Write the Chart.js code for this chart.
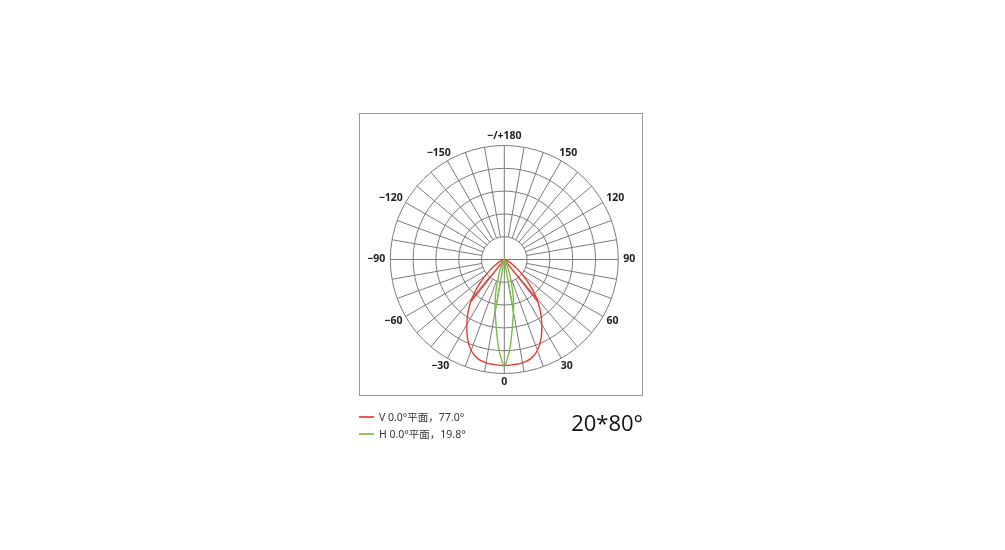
<!DOCTYPE html>
<html>
<head>
<meta charset="utf-8">
<script src="https://cdn.jsdelivr.net/npm/chart.js@4"></script>
<style>
    body { margin: 0; background: #fff; }
    #wrap { position: relative; width: 1005px; height: 550px; }
    #frame { position: absolute; left: 359px; top: 113px; width: 282px; height: 281px; border: 1px solid #999; }
    .legend { position: absolute; left: 379px; font: 10.5px "Noto Sans", "Noto Sans CJK SC", sans-serif; color: #333; line-height: 16px; }
    .mark { position: absolute; left: 359px; width: 15px; height: 2px; }
    #beam { position: absolute; left: 560px; top: 407px; width: 83px; text-align: right; font: 22px "Open Sans", sans-serif; color: #111; }
</style>
</head>
<body>
<div id="wrap">
    <div id="frame"></div>
    <canvas id="polar"></canvas>
    <div class="mark" style="top:416px; background:#ef5a50"></div>
    <div class="legend" style="top:409px">V 0.0°平面，77.0°</div>
    <div class="mark" style="top:433px; background:#8cc65c"></div>
    <div class="legend" style="top:426px">H 0.0°平面，19.8°</div>
    <div id="beam">20*80°</div>
</div>
<script>
// polar data: angle in degrees (0 = straight down), value in cd
const redAngles = [-90,-80,-70,-65,-60,-55,-50,-45,-40,-35,-30,-25,-20,-15,-10,-5,0,5,10,15,20,25,30,35,40,45,50,55,60,65,70,80,90];
const redValues = [0,4,13,22,39,66,105,158,219,276,329,382,425,450,460,463,465,463,460,450,425,382,329,276,219,158,105,66,39,22,13,4,0];
const greenAngles = [-90,-50,-40,-30,-25,-20,-15,-12,-10,-8,-6,-4,-2,0,2,4,6,8,10,12,15,20,25,30,40,50,90];
const greenValues = [0,1,3,12,30,70,140,195,230,270,320,380,430,470,430,380,320,270,230,195,140,70,30,12,3,1,0];
const beamAngles = [77.0, 19.8];
const seriesColors = ['#e8392f', '#7cba4a'];

// grid
const rings = [100, 200, 300, 400, 500];
const labelAngles = [0, 30, 60, 90, 120, 150, 180, -150, -120, -90, -60, -30];
const labelTexts = ['0', '30', '60', '90', '120', '150', '\u2212/+180', '\u2212150', '\u2212120', '\u221290', '\u221260', '\u221230'];

const rad = d => d * Math.PI / 180;

function toXY(angles, values) {
    return angles.map((a, i) => ({ x: values[i] * Math.sin(rad(a)), y: -values[i] * Math.cos(rad(a)) }));
}

function beamLine(values, beam) {
    const h = Math.max(...values) / 2;
    const a = rad(beam / 2);
    return [
        { x: -h * Math.sin(a), y: -h * Math.cos(a) },
        { x: 0, y: 0 },
        { x: h * Math.sin(a), y: -h * Math.cos(a) }
    ];
}

const polarGrid = {
    id: 'polarGrid',
    beforeDatasetsDraw(chart) {
        const ctx = chart.ctx;
        const xs = chart.scales.x, ys = chart.scales.y;
        const cx = xs.getPixelForValue(0), cy = ys.getPixelForValue(0);
        const k = xs.getPixelForValue(100) - cx;
        const inner = rings[0] / 100 * k;
        const outer = rings[rings.length - 1] / 100 * k;

        ctx.save();
        ctx.strokeStyle = '#7a7a7a';
        ctx.lineWidth = 1;
        rings.forEach(r => {
            ctx.beginPath();
            ctx.arc(cx, cy, r / 100 * k, 0, Math.PI * 2);
            ctx.stroke();
        });
        for (let a = 0; a < 360; a += 10) {
            const dx = Math.sin(rad(a)), dy = Math.cos(rad(a));
            const start = (a % 90 === 0) ? 0 : inner;
            ctx.beginPath();
            ctx.moveTo(cx + dx * start, cy + dy * start);
            ctx.lineTo(cx + dx * outer, cy + dy * outer);
            ctx.stroke();
        }

        ctx.fillStyle = '#222';
        ctx.font = 'bold 10.5px "Noto Sans", sans-serif';
        ctx.textAlign = 'center';
        ctx.textBaseline = 'middle';
        labelAngles.forEach((a, i) => {
            const dx = Math.sin(rad(a)), dy = Math.cos(rad(a));
            const w = ctx.measureText(labelTexts[i]).width;
            const x = cx + dx * (outer + 5) + dx * w / 2;
            const y = cy + dy * (outer + 5) + dy * 4;
            ctx.fillText(labelTexts[i], x, y);
        });
        ctx.restore();
    }
};

const lineStyle = { showLine: true, pointRadius: 0, borderWidth: 1.4, fill: false };

new Chart(document.getElementById('polar'), {
    type: 'scatter',
    data: {
        datasets: [
            { ...lineStyle, data: toXY(greenAngles, greenValues), borderColor: seriesColors[1], tension: 0.2 },
            { ...lineStyle, data: beamLine(greenValues, beamAngles[1]), borderColor: seriesColors[1], tension: 0 },
            { ...lineStyle, data: toXY(redAngles, redValues), borderColor: seriesColors[0], tension: 0.3 },
            { ...lineStyle, data: beamLine(redValues, beamAngles[0]), borderColor: seriesColors[0], tension: 0 }
        ]
    },
    options: {
        responsive: true,
        maintainAspectRatio: false,
        animation: false,
        layout: { padding: { left: 367.5, right: 363.9, top: 122.7, bottom: 153.7 } },
        scales: {
            x: { type: 'linear', min: -600, max: 600, display: false },
            y: { type: 'linear', min: -600, max: 600, display: false }
        },
        plugins: { legend: { display: false }, tooltip: { enabled: false } }
    },
    plugins: [polarGrid]
});
</script>
</body>
</html>
